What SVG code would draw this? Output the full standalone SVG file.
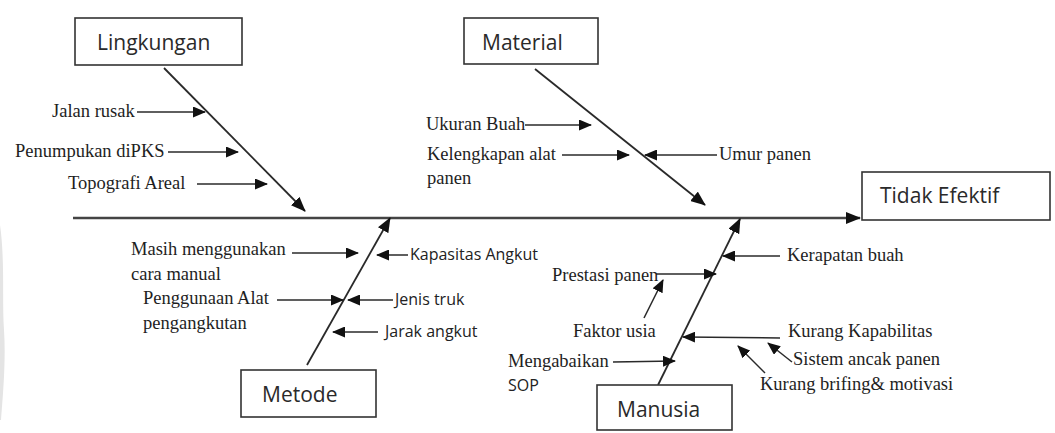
<svg xmlns="http://www.w3.org/2000/svg" width="1055" height="433" viewBox="0 0 1055 433">
  <style>
    .box { fill: #ffffff; stroke: #333333; stroke-width: 1.6; }
    .head { font-family: "Open Sans", "Liberation Sans", sans-serif; font-size: 21px; fill: #2a2a2a; }
    .lbl { font-family: "Liberation Serif", serif; font-size: 18.5px; fill: #1e1e1e; }
    .lbs { font-family: "Open Sans", "Liberation Sans", sans-serif; font-size: 16px; fill: #222222; }
    .bone { stroke: #2a2a2a; stroke-width: 1.8; fill: none; }
    .cause { stroke: #2a2a2a; stroke-width: 1.5; fill: none; }
  </style>
  <defs>
    <marker id="tip" markerUnits="userSpaceOnUse" markerWidth="15" markerHeight="12" viewBox="0 0 15 12" refX="14" refY="6" orient="auto">
      <path d="M0,0 L15,6 L0,12 Z" fill="#111111"/>
    </marker>
    <marker id="tipSmall" markerUnits="userSpaceOnUse" markerWidth="13" markerHeight="11" viewBox="0 0 13 11" refX="12" refY="5.5" orient="auto">
      <path d="M0,0 L13,5.5 L0,11 Z" fill="#111111"/>
    </marker>
  </defs>

  <rect width="1055" height="433" fill="#ffffff"/>
  <!-- faint page-edge shading -->
  <path d="M0,225 C5,260 2,300 4,330 C6,360 3,395 1,420 L0,420 Z" fill="#e4e4e4"/>

  <!-- connectors -->
  <g id="connectors">
    <!-- main spine -->
    <line x1="73" y1="218" x2="860" y2="218" stroke="#444444" stroke-width="2.6" marker-end="url(#tip)"/>
    <!-- category bones -->
    <line class="bone" x1="164" y1="68" x2="305" y2="211" marker-end="url(#tip)"/>
    <line class="bone" x1="535" y1="69" x2="705" y2="205" marker-end="url(#tip)"/>
    <line class="bone" x1="307" y1="365" x2="390" y2="218" marker-end="url(#tip)"/>
    <line class="bone" x1="658" y1="385" x2="740" y2="219" marker-end="url(#tip)"/>

    <!-- Lingkungan causes -->
    <line class="cause" x1="137" y1="112" x2="205" y2="112" marker-end="url(#tipSmall)"/>
    <line class="cause" x1="168" y1="152" x2="238" y2="152" marker-end="url(#tipSmall)"/>
    <line class="cause" x1="197" y1="184" x2="267" y2="184" marker-end="url(#tipSmall)"/>

    <!-- Material causes -->
    <line class="cause" x1="525" y1="125" x2="591" y2="125" marker-end="url(#tipSmall)"/>
    <line class="cause" x1="562" y1="155" x2="629" y2="155" marker-end="url(#tipSmall)"/>
    <line class="cause" x1="717" y1="155" x2="645" y2="155" marker-end="url(#tipSmall)"/>

    <!-- Metode causes -->
    <line class="cause" x1="292" y1="253" x2="358" y2="253" marker-end="url(#tipSmall)"/>
    <line class="cause" x1="408" y1="255" x2="377" y2="255" marker-end="url(#tipSmall)"/>
    <line class="cause" x1="277" y1="300" x2="343" y2="300" marker-end="url(#tipSmall)"/>
    <line class="cause" x1="393" y1="300" x2="348" y2="300" marker-end="url(#tipSmall)"/>
    <line class="cause" x1="378" y1="332" x2="333" y2="332" marker-end="url(#tipSmall)"/>

    <!-- Manusia causes -->
    <line class="cause" x1="780" y1="256" x2="723" y2="256" marker-end="url(#tipSmall)"/>
    <line class="cause" x1="656" y1="274" x2="716" y2="274" marker-end="url(#tipSmall)"/>
    <line class="cause" x1="644" y1="318" x2="663" y2="280" marker-end="url(#tipSmall)"/>
    <line class="cause" x1="613" y1="362" x2="675" y2="361" marker-end="url(#tipSmall)"/>
    <line class="cause" x1="780" y1="338" x2="683" y2="337" marker-end="url(#tipSmall)"/>
    <line class="cause" x1="792" y1="362" x2="768" y2="343" marker-end="url(#tipSmall)"/>
    <line class="cause" x1="765" y1="373" x2="738" y2="346" marker-end="url(#tipSmall)"/>
  </g>

  <!-- effect -->
  <g id="tidak-efektif">
    <rect class="box" x="862" y="172" width="188" height="48"/>
    <text class="head" x="880" y="203">Tidak Efektif</text>
  </g>

  <!-- categories -->
  <g id="lingkungan">
    <rect class="box" x="75" y="18" width="167" height="47"/>
    <text class="head" x="97" y="50">Lingkungan</text>
  </g>
  <g id="material">
    <rect class="box" x="464" y="18" width="134" height="46"/>
    <text class="head" x="482" y="50">Material</text>
  </g>
  <g id="metode">
    <rect class="box" x="241" y="370" width="135" height="47"/>
    <text class="head" x="262" y="402">Metode</text>
  </g>
  <g id="manusia">
    <rect class="box" x="597" y="385" width="135" height="45"/>
    <text class="head" x="617" y="417">Manusia</text>
  </g>

  <!-- cause labels: Lingkungan -->
  <g id="lingkungan-causes">
    <text class="lbl" x="52" y="117">Jalan rusak</text>
    <text class="lbl" x="15" y="157">Penumpukan diPKS</text>
    <text class="lbl" x="68" y="189">Topografi Areal</text>
  </g>

  <!-- cause labels: Material -->
  <g id="material-causes">
    <text class="lbl" x="426" y="130">Ukuran Buah</text>
    <text class="lbl" x="427" y="160">Kelengkapan alat</text>
    <text class="lbl" x="427" y="184">panen</text>
    <text class="lbl" x="719" y="160">Umur panen</text>
  </g>

  <!-- cause labels: Metode -->
  <g id="metode-causes">
    <text class="lbl" x="131" y="255">Masih menggunakan</text>
    <text class="lbl" x="131" y="280">cara manual</text>
    <text class="lbl" x="143" y="304">Penggunaan Alat</text>
    <text class="lbl" x="143" y="329">pengangkutan</text>
    <text class="lbs" x="410" y="260">Kapasitas Angkut</text>
    <text class="lbs" x="395" y="305">Jenis truk</text>
    <text class="lbs" x="385" y="337">Jarak angkut</text>
  </g>

  <!-- cause labels: Manusia -->
  <g id="manusia-causes">
    <text class="lbl" x="787" y="261">Kerapatan buah</text>
    <text class="lbl" x="552" y="281">Prestasi panen</text>
    <text class="lbl" x="573" y="337">Faktor usia</text>
    <text class="lbl" x="508" y="367">Mengabaikan</text>
    <text class="lbs" x="508" y="391">SOP</text>
    <text class="lbl" x="788" y="337">Kurang Kapabilitas</text>
    <text class="lbl" x="793" y="365">Sistem ancak panen</text>
    <text class="lbl" x="760" y="390">Kurang brifing&amp; motivasi</text>
  </g>
</svg>
